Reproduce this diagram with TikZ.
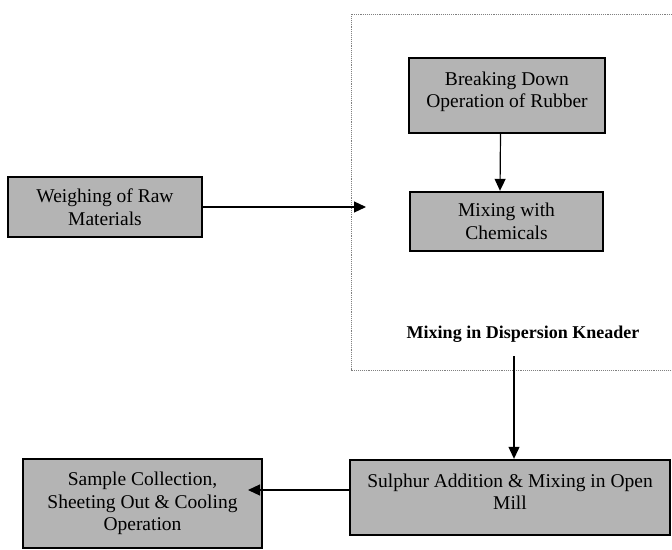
\documentclass[tikz,border=0pt]{standalone}
\usepackage{fontspec}
\setmainfont{Liberation Serif}
\usetikzlibrary{arrows.meta}
\definecolor{boxgray}{RGB}{180,180,180}
\begin{document}
\begin{tikzpicture}[x=1pt,y=-1pt,
  procbox/.style={draw=black, line width=2.4pt, fill=boxgray, inner sep=0pt, align=center,
    font=\fontsize{19.5}{22.5}\selectfont},
  arr/.style={line width=1.2pt, -{Triangle[length=12pt,width=11pt]}},
  region/.style={draw=gray, densely dotted, line width=0.9pt},
  regionlabel/.style={inner sep=0pt, font=\bfseries\fontsize{18}{21}\selectfont}]
\useasboundingbox (0,0) rectangle (672,549);
% dotted region (open on the right, cut by the picture edge)
\draw[region] (672,14) -- (351,14) -- (351,370) -- (672,370);
\node[regionlabel, anchor=base] (lbl) at (523,338) {Mixing in Dispersion Kneader};
% process boxes
\node[procbox, minimum width=194pt, minimum height=60pt] (weigh) at (105,207) {Weighing of Raw\\Materials};
\node[procbox, minimum width=196pt, minimum height=75pt, text depth=12pt] (brk) at (507,95.5) {Breaking Down\\Operation of Rubber};
\node[procbox, minimum width=193pt, minimum height=59pt] (mix) at (506.5,221.5) {Mixing with\\Chemicals};
\node[procbox, minimum width=320pt, minimum height=75pt, text depth=12pt] (sul) at (510,497.5) {Sulphur Addition \& Mixing in Open\\Mill};
\node[procbox, minimum width=239pt, minimum height=89pt] (smp) at (142.5,503.5) {Sample Collection,\\Sheeting Out \& Cooling\\Operation};
% connector ends
\coordinate (wtip) at (366,207);
\coordinate (kstart) at (514,356);
\coordinate (stip) at (248,490);
% connectors
\draw[arr] (weigh.east |- wtip) -- (wtip);
\draw[arr] ([xshift=-6.5pt]brk.south) -- ([xshift=-6.5pt]mix.north);
\draw[arr] (kstart) -- (kstart |- sul.north);
\draw[arr] (sul.west |- stip) -- (stip);
\end{tikzpicture}
\end{document}
